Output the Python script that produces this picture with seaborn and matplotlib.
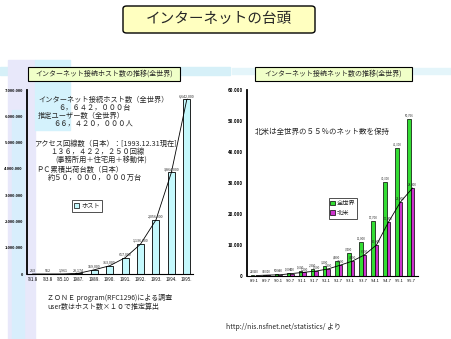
import matplotlib
matplotlib.use("Agg")
import matplotlib.pyplot as plt
import seaborn as sns
import pandas as pd
from matplotlib.patches import Rectangle, FancyBboxPatch, Patch

sns.set_theme(style="white")
plt.rcParams['font.family'] = ['Noto Sans CJK JP', 'DejaVu Sans']

# ---------------- data ----------------
host_periods = ["'81.8", "'83.8", "'85.10", "1987.", "1989.", "1990.", "1991.",
                "1992.", "1993.", "1994.", "1995."]
host_counts = [213, 562, 1961, 28174, 159000, 313000, 617000,
               1136000, 2056000, 3864000, 6642000]
host_yticks = [0, 1000000, 2000000, 3000000, 4000000, 5000000, 6000000, 7000000]

net_periods = ["'89.1", "'89.7", "'90.1", "'90.7", "'91.1", "'91.7", "'92.1",
               "'92.7", "'93.1", "'93.7", "'94.1", "'94.7", "'95.1", "'95.7"]
net_world = [220, 350, 500, 1000, 1600, 2300, 3200,
             4800, 7400, 11000, 17700, 30300, 41300, 50766]
net_na = [150, 300, 400, 800, 1200, 1600, 2300,
          3500, 4800, 6800, 10000, 17400, 23900, 28400]
net_yticks = [0, 10000, 20000, 30000, 40000, 50000, 60000]
series_names = ["全世界", "北米"]

main_title = "インターネットの台頭"
left_title = "インターネット接続ホスト数の推移(全世界)"
right_title = "インターネット接続ネット数の推移(全世界)"
left_notes = [
    ("インターネット接続ホスト数（全世界）", 38, 100),
    ("６，６４２，０００台", 58, 108),
    ("推定ユーザー数（全世界）", 38, 116),
    ("６６，４２０，０００人", 53, 124),
    ("アクセス回線数（日本）：[1993.12.31現在]", 34, 144),
    ("１３６，４２２，２５０回線", 50, 152),
    ("(事務所用＋住宅用＋移動体)", 55, 160),
    ("ＰＣ累積出荷台数（日本）", 36, 170),
    ("約５０，０００，０００万台", 48, 178),
]
left_foot = ["ＺＯＮＥ program(RFC1296)による調査", "user数はホスト数×１０で推定算出"]
right_note = "北米は全世界の５５％のネット数を保持"
source = "http://nis.nsfnet.net/statistics/ より"

W, H = 452, 339
fig = plt.figure(figsize=(W / 100, H / 100), dpi=100)
fig.patch.set_facecolor("white")


def fx(x):
    return x / W


def fy(y):
    return 1 - y / H


# decorative background bands (drawn beneath everything)
for (x0, y0, w, h, c) in [(0, 75, 230, 8, "#d6f0f8"), (232, 74, 220, 6, "#e4f5fa"),
                          (8, 339, 27, 279, "#e8e8fa"), (12, 339, 12, 229, "#d8eefc"),
                          (35, 130, 35, 70, "#d4f2fc")]:
    fig.patches.append(Rectangle((fx(x0), fy(y0)), fx(w), h / H, transform=fig.transFigure,
                                 color=c, zorder=-5))

# main title box
fig.patches.append(FancyBboxPatch((fx(123), fy(33)), fx(192), 27 / H,
                                  boxstyle="round,pad=0,rounding_size=0.008",
                                  transform=fig.transFigure, facecolor="#ffffc0",
                                  edgecolor="black", linewidth=1.0, zorder=1))
fig.text(fx(219), fy(19), main_title, fontsize=10.5, ha="center", va="center", zorder=2)

# chart title boxes
for x0, x1, t in [(28, 180, left_title), (255, 412, right_title)]:
    fig.patches.append(Rectangle((fx(x0), fy(81)), fx(x1 - x0), 14 / H,
                                 transform=fig.transFigure, facecolor="#f0ffc8",
                                 edgecolor="black", linewidth=0.8, zorder=1))
    fig.text(fx((x0 + x1) / 2), fy(74), t, fontsize=5, ha="center", va="center", zorder=2)

# ---------------- left chart ----------------
ax1 = fig.add_axes([fx(27), fy(274), fx(166), (274 - 90) / H])
ax1.set_zorder(3)
ax1.set_facecolor("none")
dfh = pd.DataFrame({"period": host_periods, "hosts": host_counts})
sns.barplot(data=dfh, x="period", y="hosts", color="#c4f8fc", edgecolor="black",
            linewidth=0.6, width=0.45, saturation=1, ax=ax1)
ax1.bar_label(ax1.containers[0], labels=[f"{v:,}" for v in host_counts],
              fontsize=2.6, padding=1)
sns.lineplot(x=list(range(len(host_counts))), y=host_counts, color="black",
             linewidth=0.6, ax=ax1)
ax1.set_ylim(0, 7000000)
ax1.set_xlim(-0.35, len(host_counts) - 0.6)
ax1.set_yticks(host_yticks)
ax1.set_yticklabels([f"{v:,}".replace(",", ".") for v in host_yticks], fontsize=2.9,
                    fontweight="bold")
ax1.set_xticks(range(len(host_periods)))
ax1.set_xticklabels(host_periods, fontsize=3.3)
ax1.set_xlabel("")
ax1.set_ylabel("")
for s in ["top", "right"]:
    ax1.spines[s].set_visible(False)
ax1.spines["left"].set_linewidth(1.3)
ax1.spines["left"].set_color("black")
ax1.spines["bottom"].set_linewidth(0.8)
ax1.spines["bottom"].set_color("black")
ax1.tick_params(axis="y", length=2.5, width=1.5, direction="out", pad=0.5, colors="black")
ax1.tick_params(axis="x", length=0, pad=2, colors="black")
leg1 = ax1.legend(handles=[Patch(facecolor="#c4f8fc", edgecolor="black", linewidth=0.5)],
                  labels=["ホスト"], loc="center", bbox_to_anchor=(fx(87), fy(206)),
                  bbox_transform=fig.transFigure, fontsize=4.5, frameon=True,
                  fancybox=False, handlelength=0.8, handleheight=0.8,
                  borderpad=0.3, handletextpad=0.3)
leg1.get_frame().set_edgecolor("black")
leg1.get_frame().set_linewidth(0.6)

for t, x, y in left_notes:
    fig.text(fx(x), fy(y), t, fontsize=5.2, ha="left", va="center", zorder=4)
fig.text(fx(47), fy(298), left_foot[0], fontsize=5, ha="left", va="center")
fig.text(fx(47), fy(307), left_foot[1], fontsize=5, ha="left", va="center")

# ---------------- right chart ----------------
ax2 = fig.add_axes([fx(247), fy(276), fx(171), (276 - 90) / H])
ax2.set_zorder(3)
ax2.set_facecolor("none")
dfn = pd.DataFrame({
    "period": net_periods * 2,
    "nets": net_world + net_na,
    "region": [series_names[0]] * len(net_periods) + [series_names[1]] * len(net_periods),
})
sns.barplot(data=dfn, x="period", y="nets", hue="region",
            palette=["#33dd33", "#cc33cc"], edgecolor="black", linewidth=0.5,
            width=0.6, saturation=1, ax=ax2, legend=False)
for cont, vals in zip(ax2.containers, [net_world, net_na]):
    ax2.bar_label(cont, labels=[f"{v:,}" for v in vals], fontsize=2.1, padding=1)
sns.lineplot(x=[i + 0.15 for i in range(len(net_na))], y=net_na, color="black",
             linewidth=0.6, ax=ax2)
ax2.set_ylim(0, 60000)
ax2.set_xlim(-0.6, len(net_periods) - 0.4)
ax2.set_yticks(net_yticks)
ax2.set_yticklabels([f"{v:,}".replace(",", ".") for v in net_yticks], fontsize=3.2,
                    fontweight="bold")
ax2.set_xticks(range(len(net_periods)))
ax2.set_xticklabels(net_periods, fontsize=2.9)
ax2.set_xlabel("")
ax2.set_ylabel("")
for s in ["top", "right"]:
    ax2.spines[s].set_visible(False)
ax2.spines["left"].set_linewidth(1.3)
ax2.spines["left"].set_color("black")
ax2.spines["bottom"].set_linewidth(0.8)
ax2.spines["bottom"].set_color("black")
ax2.tick_params(axis="y", length=2.5, width=1.5, direction="out", pad=0.5, colors="black")
ax2.tick_params(axis="x", length=0, pad=2, colors="black")
leg2 = ax2.legend(handles=[Patch(facecolor="#33dd33", edgecolor="black", linewidth=0.5),
                           Patch(facecolor="#cc33cc", edgecolor="black", linewidth=0.5)],
                  labels=series_names, loc="center", bbox_to_anchor=(fx(343), fy(208)),
                  bbox_transform=fig.transFigure, fontsize=4.5, frameon=True,
                  fancybox=False, handlelength=0.7, handleheight=0.7,
                  borderpad=0.3, handletextpad=0.3, labelspacing=0.2)
leg2.get_frame().set_edgecolor("black")
leg2.get_frame().set_linewidth(0.6)

fig.text(fx(255), fy(132), right_note, fontsize=5.4, ha="left", va="center", zorder=4)
fig.text(fx(226), fy(327), source, fontsize=5, ha="left", va="center")

fig.savefig("out.png", dpi=100, facecolor="white")
